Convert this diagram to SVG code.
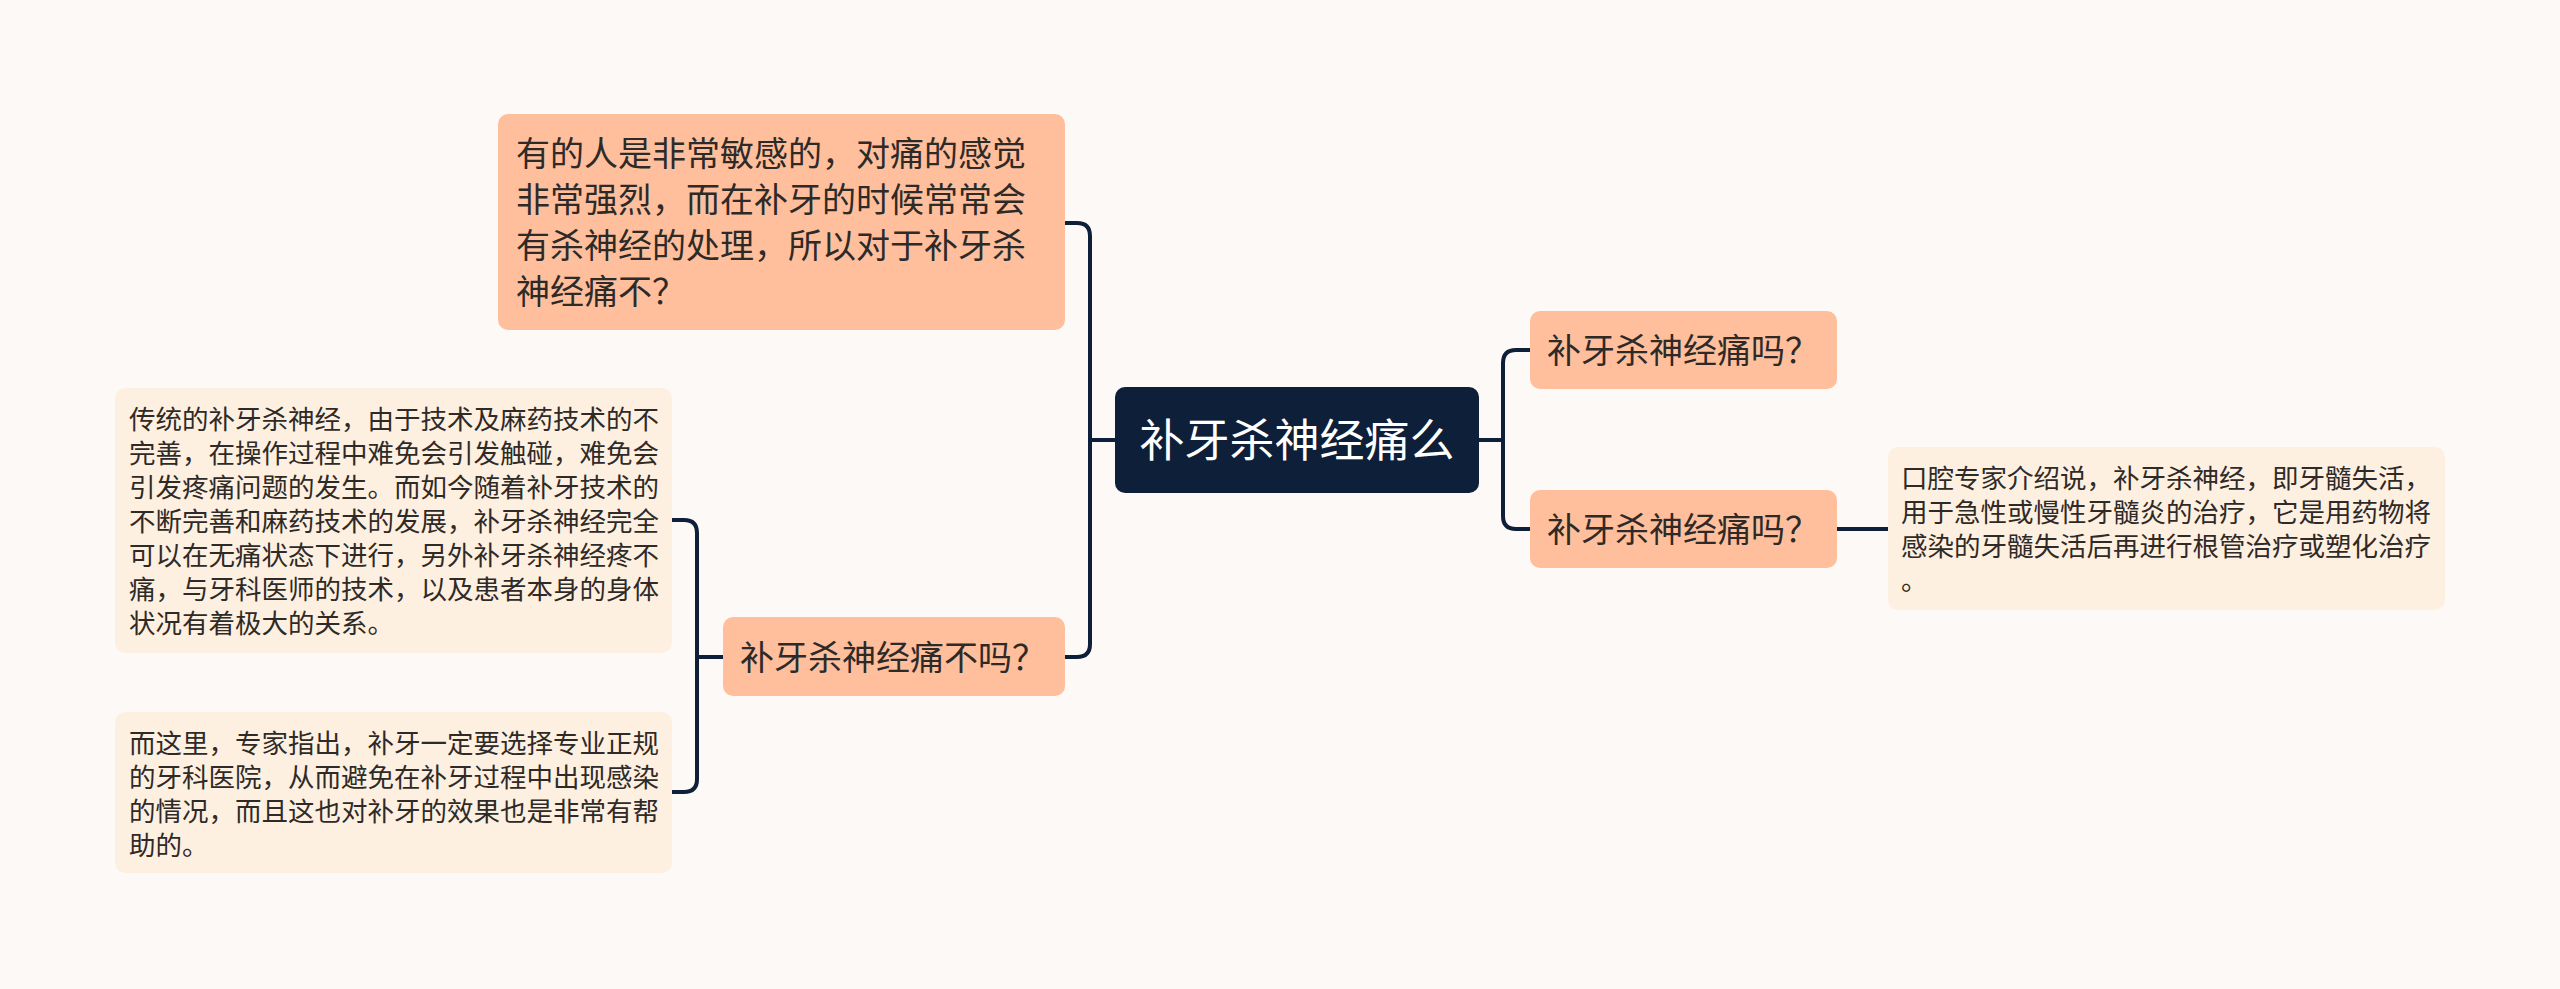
<svg xmlns="http://www.w3.org/2000/svg" width="2560" height="989" viewBox="0 0 2560 989">
<style>
.bg{fill:#fdf9f7}
.root{fill:#0e1f3a}
.l1{fill:#ffbf9c}
.dt{fill:#fef0e0}
.t{font-family:"Noto Sans CJK SC","Noto Sans",sans-serif;fill:#2e2a28}
.rt{font-family:"Noto Sans CJK SC","Noto Sans",sans-serif;fill:#ffffff;font-size:45px}
.f1{font-size:34px}
.f2{font-size:26.5px}
.c{fill:none;stroke:#0e1f3a;stroke-width:4;stroke-linecap:round}
</style>
<rect class="bg" x="0" y="0" width="2560" height="989"/>
<g id="connectors">
<path class="c" d="M1115,440 H1090"/>
<path class="c" d="M1065,223 H1077 Q1090,223 1090,236 V644 Q1090,657 1077,657 H1065"/>
<path class="c" d="M1479,440 H1503"/>
<path class="c" d="M1530,350 H1516 Q1503,350 1503,363 V516 Q1503,529 1516,529 H1530"/>
<path class="c" d="M1837,529 H1888"/>
<path class="c" d="M723,657 H697"/>
<path class="c" d="M672,520 H684 Q697,520 697,533 V779 Q697,792 684,792 H672"/>
</g>
<g id="root">
<rect class="root" x="1115" y="387" width="364" height="106" rx="10"/>
<text class="rt" x="1297" y="457" text-anchor="middle">补牙杀神经痛么</text>
</g>
<g id="n1">
<rect class="l1" x="498" y="114" width="567" height="216" rx="10"/>
<text class="t f1" x="516"><tspan x="516" y="166">有的人是非常敏感的，对痛的感觉</tspan><tspan x="516" y="212">非常强烈，而在补牙的时候常常会</tspan><tspan x="516" y="258">有杀神经的处理，所以对于补牙杀</tspan><tspan x="516" y="304">神经痛不？</tspan></text>
</g>
<g id="n2">
<rect class="l1" x="723" y="617" width="342" height="79" rx="10"/>
<text class="t f1" x="740" y="670">补牙杀神经痛不吗？</text>
</g>
<g id="n3">
<rect class="dt" x="115" y="388" width="557" height="265" rx="10"/>
<text class="t f2"><tspan x="129" y="429">传统的补牙杀神经，由于技术及麻药技术的不</tspan><tspan x="129" y="463">完善，在操作过程中难免会引发触碰，难免会</tspan><tspan x="129" y="497">引发疼痛问题的发生。而如今随着补牙技术的</tspan><tspan x="129" y="531">不断完善和麻药技术的发展，补牙杀神经完全</tspan><tspan x="129" y="565">可以在无痛状态下进行，另外补牙杀神经疼不</tspan><tspan x="129" y="599">痛，与牙科医师的技术，以及患者本身的身体</tspan><tspan x="129" y="633">状况有着极大的关系。</tspan></text>
</g>
<g id="n4">
<rect class="dt" x="115" y="712" width="557" height="161" rx="10"/>
<text class="t f2"><tspan x="129" y="753">而这里，专家指出，补牙一定要选择专业正规</tspan><tspan x="129" y="787">的牙科医院，从而避免在补牙过程中出现感染</tspan><tspan x="129" y="821">的情况，而且这也对补牙的效果也是非常有帮</tspan><tspan x="129" y="855">助的。</tspan></text>
</g>
<g id="n5">
<rect class="l1" x="1530" y="311" width="307" height="78" rx="10"/>
<text class="t f1" x="1547" y="363">补牙杀神经痛吗？</text>
</g>
<g id="n6">
<rect class="l1" x="1530" y="490" width="307" height="78" rx="10"/>
<text class="t f1" x="1547" y="542">补牙杀神经痛吗？</text>
</g>
<g id="n7">
<rect class="dt" x="1888" y="447" width="557" height="163" rx="10"/>
<text class="t f2"><tspan x="1901" y="488">口腔专家介绍说，补牙杀神经，即牙髓失活，</tspan><tspan x="1901" y="522">用于急性或慢性牙髓炎的治疗，它是用药物将</tspan><tspan x="1901" y="556">感染的牙髓失活后再进行根管治疗或塑化治疗</tspan><tspan x="1901" y="590">。</tspan></text>
</g>
</svg>
